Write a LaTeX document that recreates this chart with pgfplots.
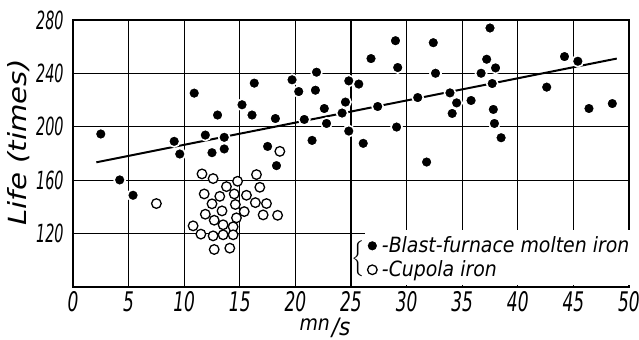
\documentclass[border=0pt]{standalone}
\usepackage{fontspec}
\setmainfont{Liberation Sans}
\newfontfamily\condfont{DejaVu Sans Condensed}
\usepackage{graphicx}
\usepackage{pgfplots}
\pgfplotsset{compat=1.18}
\usetikzlibrary{calc}
\begin{document}
\begin{tikzpicture}
\begin{axis}[
  scale only axis, width=278pt, height=133.5pt,
  xmin=0, xmax=50, ymin=80, ymax=280,
  xtick={0,5,...,50}, ytick={120,160,...,280},
  grid=major, major grid style={black, line width=0.55pt},
  axis line style={line width=1.2pt},
  tick style={draw=none},
  /pgf/number format/assume math mode=true,
  xticklabel style={font=\condfont\itshape\fontsize{13.5}{15}\selectfont, inner sep=0.5pt, yshift=-1.5pt},
  yticklabel style={font=\condfont\itshape\fontsize{12.5}{14}\selectfont, inner sep=2pt, xshift=-2.5pt},
  xticklabel={\scalebox{0.7}[1]{\pgfmathprintnumber{\tick}}},
  yticklabel={\scalebox{0.64}[1]{\pgfmathprintnumber{\tick}}},
  legend style={at={(axis cs:26.2,81)}, anchor=south west, draw=none, fill=white,
    font=\condfont\itshape\fontsize{10.5}{11.5}\selectfont, row sep=-1.5pt, inner sep=1pt},
  legend cell align=left,
]
\addplot[black, line width=1pt, forget plot] coordinates {(2.1,173.4) (48.9,251.1)};
\addplot[only marks, mark=*, mark size=2.8pt, mark options={draw=white, line width=0.8pt, fill=black}] coordinates {
(2.5,194.6) (10.9,225.2) (16.3,232.7) (19.7,235.2) (21.9,240.9) (20.3,226.4) (21.8,227.4)
(24.8,234.4) (25.7,232) (15.2,216.5) (13.0,208.8) (16.1,208.8) (18.2,206.2) (20.8,205.5)
(22.6,213.7) (24.5,218.5) (24.2,210.3) (22.8,202.5) (24.8,196.8) (9.1,189.1) (11.9,193.8)
(13.6,192.1) (9.6,179.6) (12.5,180.6) (13.6,183.4) (17.5,185.3) (18.3,170.9) (21.5,189.8)
(26.1,187.6) (26.8,251.1) (29.0,264.5) (29.2,244.4) (32.4,263.0) (32.6,240.1) (37.5,274.0)
(37.2,250.6) (38.0,244.1) (36.7,240.1) (37.7,232.4) (27.4,215.2) (31.0,221.9) (33.9,225.4)
(34.5,217.9) (34.1,210.0) (35.8,219.7) (37.8,213.0) (37.9,202.5) (38.5,191.8) (29.1,199.8)
(31.8,173.6) (42.6,229.7) (44.2,252.6) (45.4,249.1) (46.4,213.7) (48.5,217.4)
(4.2,160.2) (5.4,148.7)
};
\addlegendentry{-Blast-furnace molten iron}
\addplot[only marks, mark=*, mark size=2.4pt, mark options={draw=black, line width=0.65pt, fill=white}] coordinates {
(18.6,181.6) (7.5,142.5) (11.6,164.7) (12.6,161.2) (14.8,159.2) (16.5,164.2) (13.8,155.2)
(16.8,154.7) (11.8,149.7) (13.2,147.9) (14.5,149.7) (15.6,148.7) (12.5,142.3) (14.6,141.8)
(16.4,143.2) (17.4,142.5) (11.9,134.5) (13.4,137.0) (15.4,136.5) (17.1,134.0) (18.4,133.7)
(12.7,130.0) (14.7,131.8) (10.8,125.8) (13.5,126.6) (14.4,125.1) (11.5,119.6) (12.6,118.3)
(13.5,119.1) (14.4,119.1) (12.7,108.1) (14.1,109.1)
};
\addlegendentry{-Cupola iron}
\node[anchor=east, inner sep=0pt] at (axis cs:26.5,101) {$\left\{\rule{0pt}{11pt}\right.$};
\end{axis}
\node[rotate=90, font=\condfont\itshape\fontsize{12.5}{14}\selectfont] at ($(current axis.west)+(-27pt,5.5pt)$) {\scalebox{1.3}[1]{Life (times)}};
\node[font=\condfont\itshape, anchor=south, inner sep=0pt] at ($(current axis.south)+(-13pt,-25.6pt)$) {\raisebox{2.5pt}{\fontsize{10.5}{12}\selectfont mn}\hspace{1pt}{\fontsize{12}{12}\selectfont /s}};
\pgfresetboundingbox
\path ($(current axis.south west)+(-36.5pt,-26.5pt)$) rectangle ($(current axis.north east)+(5pt,10pt)$);
\end{tikzpicture}
\end{document}
